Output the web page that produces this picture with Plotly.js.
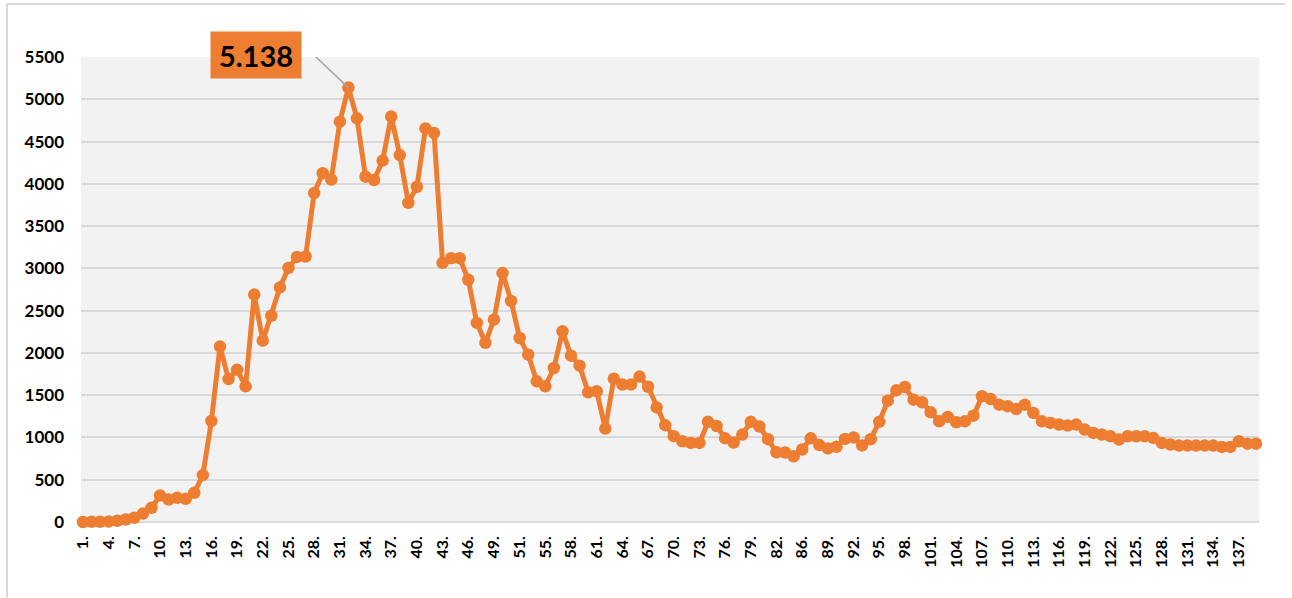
<!DOCTYPE html>
<html>
<head>
<meta charset="utf-8">
<script src="https://cdn.plot.ly/plotly-3.0.1.min.js"></script>
<style>
html,body{margin:0;padding:0;background:#fff;}
#chart{width:1292px;height:598px;}
</style>
</head>
<body>
<div id="chart"></div>
<script>
// Day index (position along the axis)
const days = [
  1,2,3,4,5,6,7,8,9,10,11,12,13,14,15,16,17,18,19,20,
  21,22,23,24,25,26,27,28,29,30,31,32,33,34,35,36,37,38,39,40,
  41,42,43,44,45,46,47,48,49,50,51,52,53,54,55,56,57,58,59,60,
  61,62,63,64,65,66,67,68,69,70,71,72,73,74,75,76,77,78,79,80,
  81,82,83,84,85,86,87,88,89,90,91,92,93,94,95,96,97,98,99,100,
  101,102,103,104,105,106,107,108,109,110,111,112,113,114,115,116,117,118,119,120,
  121,122,123,124,125,126,127,128,129,130,131,132,133,134,135,136,137,138
];

// Daily values
const values = [
  0,2,3,5,15,30,50,100,168,313,266,286,274,345,555,1195,2075,1690,1800,1605,
  2690,2145,2440,2775,3005,3135,3140,3890,4125,4050,4735,5138,4775,4085,4045,4275,4795,4340,3775,3965,
  4655,4600,3065,3120,3120,2865,2355,2120,2393,2944,2615,2176,1979,1664,1605,1822,2255,1967,1849,1534,
  1546,1105,1695,1625,1625,1720,1600,1355,1145,1015,955,935,935,1185,1135,990,940,1034,1185,1130,
  980,825,822,778,858,990,910,870,890,983,1000,906,980,1185,1435,1557,1597,1447,1416,1298,
  1191,1243,1180,1191,1258,1487,1455,1388,1369,1337,1388,1290,1191,1172,1152,1140,1152,1093,1054,1034,
  1014,975,1014,1014,1014,995,935,916,904,904,904,904,904,888,888,955,927,927
];

// Tick labels shown on the x axis (every third day, as printed in the source)
const tickLabels = [
  "1.","4.","7.","10.","13.","16.","19.","22.","25.","28.","31.","34.","37.","40.","43.","46.",
  "49.","51.","55.","58.","61.","64.","67.","70.","73.","76.","79.","82.","86.","89.","92.","95.",
  "98.","101.","104.","107.","110.","113.","116.","119.","122.","125.","128.","131.","134.","137."
];

const yTicks = [0,500,1000,1500,2000,2500,3000,3500,4000,4500,5000,5500];

const tickVals = days.filter((d, i) => i % 3 === 0).slice(0, tickLabels.length);

// peak
let peakIdx = 0;
values.forEach((v, i) => { if (v > values[peakIdx]) peakIdx = i; });
const peakText = String(values[peakIdx]).replace(/\B(?=(\d{3})+(?!\d))/g, ".");

const orange = "#ED7D31";
const fontFam = "Lato, 'Liberation Sans', Arial, sans-serif";

const trace = {
  x: days,
  y: values,
  type: "scatter",
  mode: "lines+markers",
  line: {color: orange, width: 5},
  marker: {color: orange, size: 12.5},
  hoverinfo: "x+y",
  cliponaxis: false
};

// paper-coordinate helpers for the outer chart border
const L = 81, R = 1259, T = 57, B = 522.5;
const px = v => (v - L) / (R - L);
const py = v => (B - v) / (B - T);

const layout = {
  width: 1292,
  height: 598,
  margin: {l: L, r: 1292 - R, t: T, b: 598 - B},
  paper_bgcolor: "#ffffff",
  plot_bgcolor: "#F2F2F2",
  showlegend: false,
  xaxis: {
    range: [0.77, 138.35],
    tickmode: "array",
    tickvals: tickVals,
    ticktext: tickLabels,
    tickangle: -90,
    tickfont: {family: fontFam, size: 16, weight: "bold", color: "#000"},
    showgrid: false,
    zeroline: false,
    showline: false,
    ticks: "",
    ticklabelstandoff: 10
  },
  yaxis: {
    range: [0, 5500],
    tickmode: "array",
    tickvals: yTicks,
    ticktext: yTicks.map(String),
    tickfont: {family: fontFam, size: 17, weight: "bold", color: "#000"},
    showgrid: true,
    gridcolor: "#D9D9D9",
    gridwidth: 2,
    zeroline: true,
    zerolinecolor: "#D9D9D9",
    zerolinewidth: 2,
    showline: false,
    ticks: "",
    ticklabelstandoff: 16
  },
  annotations: [{
    x: days[peakIdx],
    y: values[peakIdx],
    xref: "x",
    yref: "y",
    text: peakText,
    showarrow: false,
    xshift: -92,
    yshift: 33,
    bgcolor: orange,
    borderpad: 2,
    width: 86,
    height: 42,
    font: {family: fontFam, size: 29, weight: "bold", color: "#000"}
  }],
  shapes: [
    // bent leader line from the label box to the peak point (pixel offsets from the peak)
    {type: "path", xref: "x", yref: "y", xsizemode: "pixel", ysizemode: "pixel",
     xanchor: days[peakIdx], yanchor: values[peakIdx],
     path: "M -47 33 L -35 33 L 0 0",
     line: {color: "#A5A5A5", width: 1.5}, layer: "above"},
    {type: "line", xref: "paper", yref: "paper", x0: px(7), x1: px(7), y0: py(4), y1: py(598),
     line: {color: "#D9D9D9", width: 2}},
    {type: "line", xref: "paper", yref: "paper", x0: px(7), x1: px(1285), y0: py(4), y1: py(4),
     line: {color: "#D9D9D9", width: 2}}
  ]
};

Plotly.newPlot("chart", [trace], layout, {displayModeBar: false, staticPlot: true});
</script>
</body>
</html>
